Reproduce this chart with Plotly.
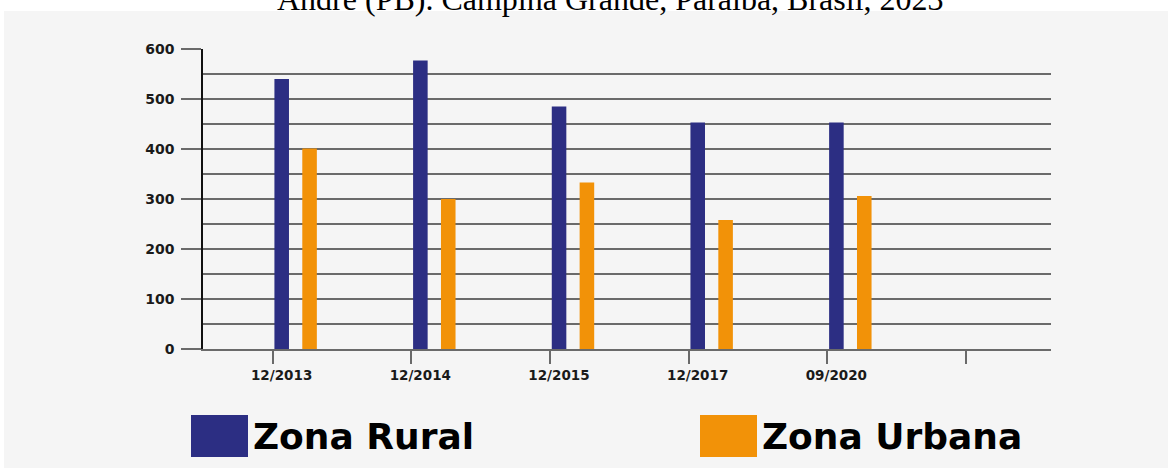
import plotly.graph_objects as go

categories = ["12/2013", "12/2014", "12/2015", "12/2017", "09/2020", ""]
rural = [540, 577, 485, 453, 453]
urbana = [401, 300, 333, 258, 306]
y_ticks = [0, 100, 200, 300, 400, 500, 600]

BLUE = "#2c2e83"
ORANGE = "#f29208"
GRID = "#6a6a6a"

W, H = 1171, 468
L, R, T, B = 203, 120, 49, 119
PW, PH = W - L - R, H - T - B


def px(xp):
    return (xp - L) / PW


def py(yp):
    return (H - B - yp) / PH


fig = go.Figure()
fig.add_trace(go.Bar(x=list(range(len(rural))), y=rural, width=0.105, offset=0.013,
                     marker=dict(color=BLUE, line=dict(width=0)), name="Zona Rural"))
fig.add_trace(go.Bar(x=list(range(len(urbana))), y=urbana, width=0.105, offset=0.214,
                     marker=dict(color=ORANGE, line=dict(width=0)), name="Zona Urbana"))

fig.add_hline(y=450, line=dict(color="#111111", width=1.3), layer="below")

xfont = dict(family="DejaVu Sans", size=13.5, color="#1a1a1a", weight="bold")
yfont = dict(family="DejaVu Sans", size=14, color="#1a1a1a", weight="bold")

fig.update_layout(
    width=W, height=H,
    margin=dict(l=L, r=R, t=T, b=B, autoexpand=False),
    paper_bgcolor="white",
    plot_bgcolor="rgba(0,0,0,0)",
    showlegend=False,
    barmode="overlay",
    xaxis=dict(
        range=[-0.502, 5.613],
        tickmode="array", tickvals=list(range(len(categories))), ticktext=categories,
        showgrid=False, zeroline=False,
        showline=True, linecolor=GRID, linewidth=2,
        ticks="outside", ticklen=13, tickwidth=2, tickcolor=GRID,
        tickfont=xfont, ticklabelshift=9,
    ),
    yaxis=dict(
        range=[0, 600],
        tickmode="array", tickvals=y_ticks,
        showgrid=True, gridcolor=GRID, gridwidth=1.7,
        minor=dict(dtick=50, showgrid=True, gridcolor=GRID, gridwidth=1.7),
        zeroline=False,
        showline=True, linecolor="#111111", linewidth=1.5,
        ticks="outside", ticklen=20, tickwidth=2, tickcolor=GRID,
        tickfont=yfont, ticklabelstandoff=4,
    ),
)

# light grey panel
fig.add_shape(type="rect", xref="paper", yref="paper",
              x0=px(4), x1=px(1168), y0=py(468), y1=py(11),
              fillcolor="#f5f5f5", line=dict(width=0), layer="below")

# cropped caption at top
fig.add_annotation(text="André (PB). Campina Grande, Paraíba, Brasil, 2023",
                   xref="paper", yref="paper", x=px(610), y=py(19),
                   xanchor="center", yanchor="bottom", showarrow=False,
                   font=dict(family="Liberation Serif", size=32, color="#000000"))

# custom legend
legend_items = [("Zona Rural", BLUE, 191, 248, 251), ("Zona Urbana", ORANGE, 700, 757, 760)]
for label, color, sx0, sx1, tx in legend_items:
    fig.add_shape(type="rect", xref="paper", yref="paper",
                  x0=px(sx0), x1=px(sx1), y0=py(457), y1=py(415),
                  fillcolor=color, line=dict(width=0))
    fig.add_annotation(text=label, xref="paper", yref="paper",
                       x=px(tx), y=py(436), xanchor="left", yanchor="middle",
                       showarrow=False,
                       font=dict(family="DejaVu Sans", size=36, color="#000000", weight="bold"))

fig.write_html("out.html", config={"displayModeBar": False},
               post_script="document.body.style.margin='0';")
